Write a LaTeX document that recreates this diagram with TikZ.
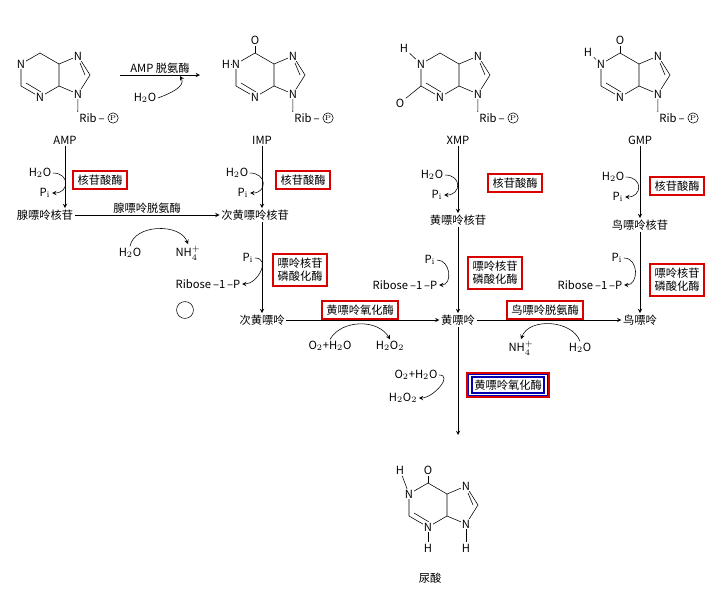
\documentclass[tikz,border=0pt]{standalone}
\usepackage{fontspec}
\newfontfamily\cjk{Noto Sans CJK SC}
\usetikzlibrary{positioning}

\newcommand\purine[3]{%
  \draw ({#1},{#2-22}) -- ({#1+19},{#2-11}) -- ({#1+19},{#2+11}) -- ({#1},{#2+22})
        -- ({#1-19},{#2+11}) -- ({#1-19},{#2-11}) -- cycle;
  \draw ({#1+19},{#2-11}) -- ({#1+38},{#2-19}) -- ({#1+50},{#2}) -- ({#1+38},{#2+19}) -- ({#1+19},{#2+11});
  \draw ({#1+40},{#2-12}) -- ({#1+45},{#2});
  \draw ({#1-14},{#2+8}) -- ({#1+1},{#2+17});
  \node[atom] (#3n1) at ({#1-19},{#2-11}) {N};
  \node[atom] (#3n3) at ({#1},{#2+22}) {N};
  \node[atom] (#3n7) at ({#1+38},{#2-19}) {N};
  \node[atom] (#3n9) at ({#1+38},{#2+19}) {N};
}

\begin{document}
\begin{tikzpicture}[x=0.025cm,y=-0.025cm,font=\footnotesize\cjk,
  enz/.style={draw=red!85!black,line width=1.4pt,inner sep=3pt,align=left},
  lbl/.style={inner sep=1pt},
  atom/.style={fill=white,inner sep=0.5pt},
  pcirc/.style={draw,circle,inner sep=0.6pt,font=\tiny},
  >=stealth]

\useasboundingbox (0,0) rectangle (728,588);

% ring structures
\purine{40}{75}{a}
\purine{255}{75}{i}
\purine{440}{75}{x}
\purine{620}{75}{g}
\purine{428}{505}{u}
\node[lbl] (rib1) at (92,118) {Rib\,–};
\node[pcirc,right=1pt of rib1] (pp1) {P};
\draw (an9) -- (rib1.north west);
\node[lbl] (o2) at (255,40) {O};
\draw (255,53) -- (o2);
\node[lbl] (h2) at (226,64) {H};
\draw (h2) -- (in1);
\node[lbl] (rib2) at (307,118) {Rib\,–};
\node[pcirc,right=1pt of rib2] (pp2) {P};
\draw (in9) -- (rib2.north west);
\node[lbl] (h3) at (404,48) {H};
\draw (h3) -- (xn1);
\node[lbl] (o3) at (400,103) {O};
\draw (421,86) -- (o3);
\node[lbl] (rib3) at (492,118) {Rib\,–};
\node[pcirc,right=1pt of rib3] (pp3) {P};
\draw (xn9) -- (rib3.north west);
\node[lbl] (o4) at (620,40) {O};
\draw (620,53) -- (o4);
\node[lbl] (h4) at (588,52) {H};
\draw (h4) -- (gn1);
\node[lbl] (rib4) at (672,118) {Rib\,–};
\node[pcirc,right=1pt of rib4] (pp4) {P};
\draw (gn9) -- (rib4.north west);
\node[lbl] (o5) at (428,470) {O};
\draw (428,483) -- (o5);
\node[lbl] (h5a) at (400,470) {H};
\draw (h5a) -- (un1);
\node[lbl] (h5b) at (428,548) {H};
\draw (un3) -- (h5b);
\node[lbl] (h5c) at (466,548) {H};
\draw (un9) -- (h5c);

% top arrow
\coordinate (ampend) at (120,75);
\coordinate (impend) at (200,75);
\draw[->] (ampend) -- node[above,lbl] {AMP 脱氨酶} (impend);
\node[lbl] (h2o0) at (145,98) {H$_2$O};
\draw[->] (h2o0.east) to[out=20,in=-60] (180,76);

% names
\node[lbl] (amp) at (65,140) {AMP};
\node[lbl] (imp) at (262,140) {IMP};
\node[lbl] (xmp) at (458,140) {XMP};
\node[lbl] (gmp) at (640,140) {GMP};
\node[lbl] (ado) at (45,215) {腺嘌呤核苷};
\node[lbl] (ino) at (255,215) {次黄嘌呤核苷};
\node[lbl] (xao) at (458,220) {黄嘌呤核苷};
\node[lbl] (guo) at (640,225) {鸟嘌呤核苷};
\node[lbl] (hyp) at (262,320) {次黄嘌呤};
\node[lbl] (xan) at (458,320) {黄嘌呤};
\node[lbl] (gua) at (640,320) {鸟嘌呤};
\node[lbl] (uric) at (430,578) {尿酸};

% main arrows
\draw[->] (amp) -- (amp|-ado.north);
\draw[->] (imp) -- (imp|-ino.north);
\draw[->] (xmp) -- (xao);
\draw[->] (gmp) -- (guo);
\draw[->] (ado) -- node[above,lbl] {腺嘌呤脱氨酶} (ino);
\draw[->] (imp|-ino.south) -- (hyp);
\draw[->] (xao) -- (xan);
\draw[->] (guo) -- (gua);
\draw[->] (hyp) -- (xan);
\draw[->] (xan) -- (gua);
\draw[->] (xan) -- (458,435);

% enzymes
\node[enz] (e1) at (100,180) {核苷酸酶};
\node[enz] (e2) at (303,180) {核苷酸酶};
\node[enz] (e3) at (515,183) {核苷酸酶};
\node[enz] (e4) at (677,186) {核苷酸酶};
\node[enz] (e5) at (300,270) {嘌呤核苷\\磷酸化酶};
\node[enz] (e6) at (495,273) {嘌呤核苷\\磷酸化酶};
\node[enz] (e7) at (677,280) {嘌呤核苷\\磷酸化酶};
\node[enz] (e8) at (360,310) {黄嘌呤氧化酶};
\node[enz] (e9) at (545,310) {鸟嘌呤脱氨酶};
\node[enz,draw=blue!70!black,double=white,double distance=1pt,outer sep=2pt] (e10) at (508,385) {黄嘌呤氧化酶};
\draw[red!85!black,line width=1.4pt] (e10.north west) rectangle (e10.south east);

% side reactions
\node[lbl] (w1) at (40,173) {H$_2$O};
\node[lbl] (p1) at (45,193) {P$_\mathrm{i}$};
\draw[->] (w1.east) to[out=0,in=0,looseness=2.2] (p1.east);
\node[lbl] (w2) at (237,173) {H$_2$O};
\node[lbl] (p2) at (243,193) {P$_\mathrm{i}$};
\draw[->] (w2.east) to[out=0,in=0,looseness=2.2] (p2.east);
\node[lbl] (w3) at (432,175) {H$_2$O};
\node[lbl] (p3) at (437,195) {P$_\mathrm{i}$};
\draw[->] (w3.east) to[out=0,in=0,looseness=2.2] (p3.east);
\node[lbl] (w4) at (613,177) {H$_2$O};
\node[lbl] (p4) at (618,197) {P$_\mathrm{i}$};
\draw[->] (w4.east) to[out=0,in=0,looseness=2.2] (p4.east);
\node[lbl] (w5) at (130,253) {H$_2$O};
\node[lbl] (nh5) at (188,253) {NH$_4^+$};
\draw[->] (w5.north) to[out=80,in=110] (nh5.north);
\node[lbl] (p6) at (248,258) {P$_\mathrm{i}$};
\node[lbl] (r6) at (208,284) {Ribose\,–1\,–P};
\draw[->] (p6.east) to[out=0,in=0,looseness=1.4] (r6.east);
\node[lbl] (p7) at (430,260) {P$_\mathrm{i}$};
\node[lbl] (r7) at (405,285) {Ribose\,–1\,–P};
\draw[->] (p7.east) to[out=0,in=0,looseness=1.4] (r7.east);
\node[lbl] (p8) at (617,258) {P$_\mathrm{i}$};
\node[lbl] (r8) at (590,285) {Ribose\,–1\,–P};
\draw[->] (p8.east) to[out=0,in=0,looseness=1.4] (r8.east);
\node[lbl] (o9) at (330,346) {O$_2$+H$_2$O};
\node[lbl] (h9) at (390,346) {H$_2$O$_2$};
\draw[->] (o9.north) to[out=60,in=120] (h9.north);
\node[lbl] (nh10) at (521,348) {NH$_4^+$};
\node[lbl] (w10) at (580,348) {H$_2$O};
\draw[->] (w10.north) to[out=110,in=70] (nh10.north);
\node[lbl] (o11) at (416,375) {O$_2$+H$_2$O};
\node[lbl] (h11) at (403,398) {H$_2$O$_2$};
\draw[->] (o11.east) to[out=0,in=0,looseness=1.2] (h11.east);

\node[draw,circle,minimum size=12pt,inner sep=0pt] (ring) at (185,310) {};
\end{tikzpicture}
\end{document}
